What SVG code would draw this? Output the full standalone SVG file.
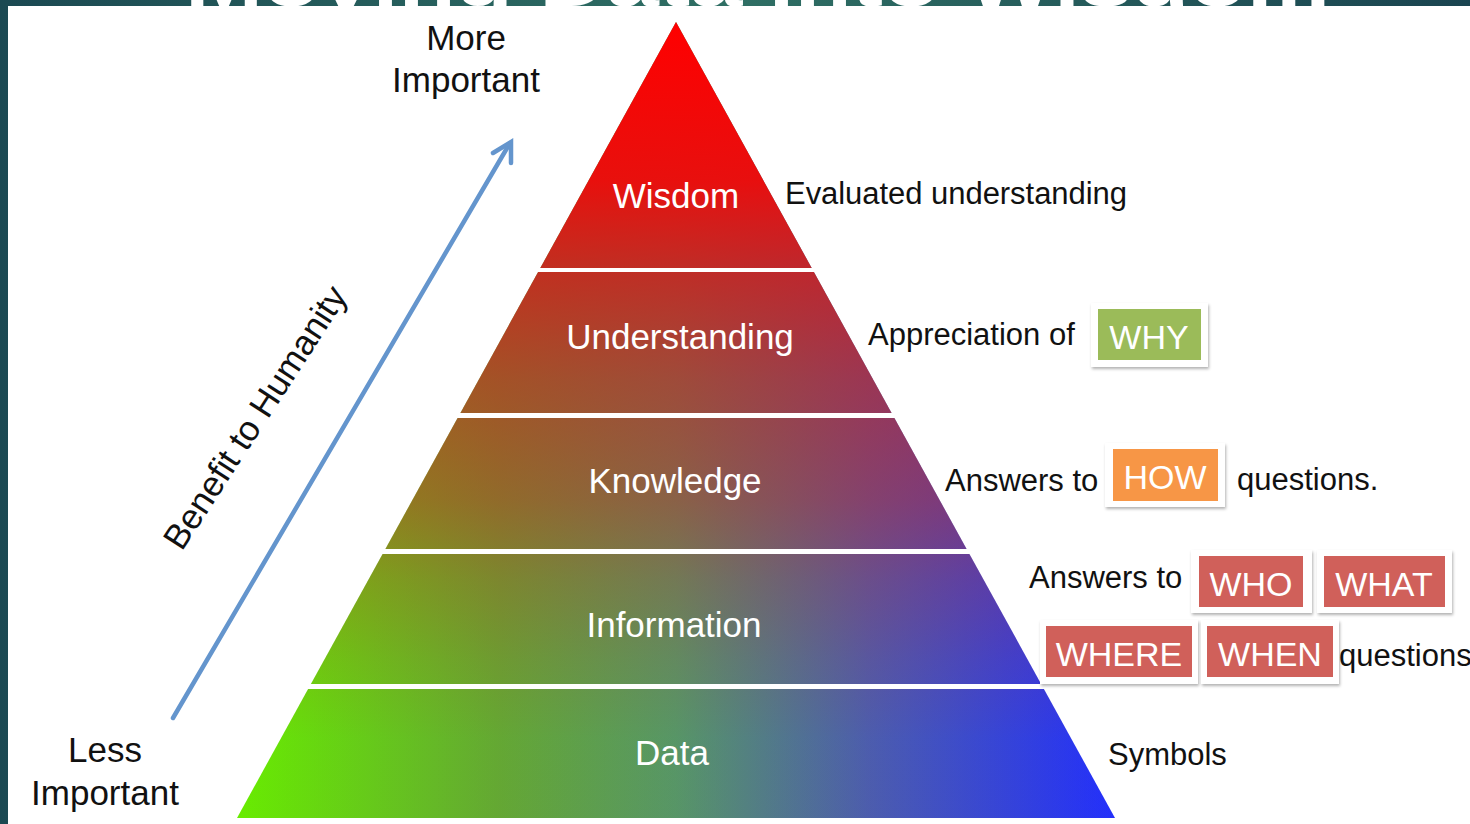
<svg xmlns="http://www.w3.org/2000/svg" width="1470" height="824" viewBox="0 0 1470 824">
  <defs>
    <linearGradient id="bg" x1="0" y1="0" x2="1470" y2="0" gradientUnits="userSpaceOnUse">
      <stop offset="0" stop-color="#1b4952"/>
      <stop offset="0.5" stop-color="#2f6f64"/>
      <stop offset="1" stop-color="#1a4450"/>
    </linearGradient>
    <linearGradient id="baseGrad" x1="237" y1="0" x2="1115" y2="0" gradientUnits="userSpaceOnUse">
      <stop offset="0" stop-color="#66f000"/>
      <stop offset="0.3" stop-color="#62aa34"/>
      <stop offset="0.5" stop-color="#559868"/>
      <stop offset="0.72" stop-color="#4a5eb0"/>
      <stop offset="1" stop-color="#2030ff"/>
    </linearGradient>
    <linearGradient id="redGrad" x1="0" y1="22" x2="0" y2="818" gradientUnits="userSpaceOnUse">
      <stop offset="0" stop-color="#ff0000" stop-opacity="1"/>
      <stop offset="0.2" stop-color="#ee0a0a" stop-opacity="0.96"/>
      <stop offset="0.31" stop-color="#d21a1a" stop-opacity="0.85"/>
      <stop offset="0.45" stop-color="#c82020" stop-opacity="0.64"/>
      <stop offset="0.6" stop-color="#c82020" stop-opacity="0.46"/>
      <stop offset="0.7" stop-color="#c82020" stop-opacity="0.26"/>
      <stop offset="0.8" stop-color="#c82020" stop-opacity="0.12"/>
      <stop offset="0.9" stop-color="#c82020" stop-opacity="0.02"/>
    </linearGradient>
    <filter id="shadow" x="-10%" y="-10%" width="130%" height="140%">
      <feDropShadow dx="1" dy="2" stdDeviation="1.5" flood-color="#000" flood-opacity="0.3"/>
    </filter>
    <clipPath id="titleClip"><rect x="0" y="0" width="1470" height="6"/></clipPath>
  </defs>
  <style>
    .tier { stroke: none; }
    .tlabel { font-family: "Liberation Sans", Arial, sans-serif; font-size: 35px; fill: #ffffff; text-anchor: middle; }
    .dark { font-family: "Liberation Sans", Arial, sans-serif; font-size: 31px; fill: #111111; }
    .side { font-family: "Liberation Sans", Arial, sans-serif; font-size: 35px; fill: #111111; text-anchor: middle; }
    .card { fill: #ffffff; filter: url(#shadow); }
    .pill { font-family: "Liberation Sans", Arial, sans-serif; font-size: 34px; fill: #ffffff; text-anchor: middle; }
    .red { fill: #d0605a; }
  </style>

  <!-- background frame -->
  <rect x="0" y="0" width="1470" height="824" fill="url(#bg)"/>
  <text x="185" y="6" clip-path="url(#titleClip)" font-family="Liberation Sans, Arial, sans-serif" font-weight="bold" font-size="70" fill="#ffffff" textLength="1145" lengthAdjust="spacingAndGlyphs">Moving Data into Wisdom</text>
  <rect x="8" y="6" width="1462" height="818" fill="#ffffff"/>

  <!-- pyramid tiers -->
  <g id="wisdom">
    <polygon class="tier" points="676,22 811.7,268 540.3,268" fill="url(#baseGrad)"/>
    <polygon class="tier" points="676,22 811.7,268 540.3,268" fill="url(#redGrad)"/>
    <text class="tlabel" x="676" y="208">Wisdom</text>
  </g>
  <g id="understanding">
    <polygon class="tier" points="538.1,272 813.9,272 891.6,413 460.4,413" fill="url(#baseGrad)"/>
    <polygon class="tier" points="538.1,272 813.9,272 891.6,413 460.4,413" fill="url(#redGrad)"/>
    <text class="tlabel" x="680" y="349">Understanding</text>
  </g>
  <g id="knowledge">
    <polygon class="tier" points="457.6,418 894.4,418 966.6,549 385.4,549" fill="url(#baseGrad)"/>
    <polygon class="tier" points="457.6,418 894.4,418 966.6,549 385.4,549" fill="url(#redGrad)"/>
    <text class="tlabel" x="675" y="493">Knowledge</text>
  </g>
  <g id="information">
    <polygon class="tier" points="382.6,554 969.4,554 1041.1,684 310.9,684" fill="url(#baseGrad)"/>
    <polygon class="tier" points="382.6,554 969.4,554 1041.1,684 310.9,684" fill="url(#redGrad)"/>
    <text class="tlabel" x="674" y="637">Information</text>
  </g>
  <g id="data">
    <polygon class="tier" points="308.1,689 1043.9,689 1115,818 237,818" fill="url(#baseGrad)"/>
    <polygon class="tier" points="308.1,689 1043.9,689 1115,818 237,818" fill="url(#redGrad)"/>
    <text class="tlabel" x="672" y="765">Data</text>
  </g>

  <!-- axis arrow -->
  <g id="connectors">
    <line x1="173" y1="718" x2="510" y2="143" stroke="#6495cd" stroke-width="4.5" stroke-linecap="round"/>
    <path d="M 493 153 L 511 142 L 511 163" fill="none" stroke="#6495cd" stroke-width="4.5" stroke-linecap="round" stroke-linejoin="miter"/>
  </g>

  <g id="axis-labels">
    <text class="side" x="466" y="50">More</text>
    <text class="side" x="466" y="92">Important</text>
    <text class="side" x="105" y="762">Less</text>
    <text class="side" x="105" y="805">Important</text>
    <text class="side" x="0" y="0" font-size="34" transform="translate(265,424) rotate(-57)">Benefit to Humanity</text>
  </g>

  <!-- descriptions -->
  <g id="desc-wisdom">
    <text class="dark" x="785" y="204" textLength="342">Evaluated understanding</text>
  </g>
  <g id="desc-understanding">
    <text class="dark" x="868" y="345">Appreciation of</text>
    <rect class="card" x="1091" y="303" width="117" height="64"/>
    <rect x="1098" y="309" width="103" height="51" fill="#9bbb59"/>
    <text class="pill" x="1149" y="349">WHY</text>
  </g>
  <g id="desc-knowledge">
    <text class="dark" x="945" y="491">Answers to</text>
    <rect class="card" x="1105" y="443" width="120" height="64"/>
    <rect x="1113" y="449" width="105" height="52" fill="#f79646"/>
    <text class="pill" x="1165" y="489">HOW</text>
    <text class="dark" x="1237" y="490">questions.</text>
  </g>
  <g id="desc-information">
    <text class="dark" x="1029" y="588">Answers to</text>
    <rect class="card" x="1191" y="550" width="121" height="63"/>
    <rect class="red" x="1199" y="556" width="104" height="51"/>
    <text class="pill" x="1251" y="596">WHO</text>
    <rect class="card" x="1317" y="550" width="135" height="63"/>
    <rect class="red" x="1324" y="556" width="121" height="51"/>
    <text class="pill" x="1384" y="596">WHAT</text>
    <rect class="card" x="1040" y="620" width="158" height="64"/>
    <rect class="red" x="1046" y="626" width="146" height="51"/>
    <text class="pill" x="1119" y="666">WHERE</text>
    <rect class="card" x="1201" y="620" width="138" height="64"/>
    <rect class="red" x="1207" y="626" width="126" height="51"/>
    <text class="pill" x="1270" y="666">WHEN</text>
    <text class="dark" x="1339" y="666">questions</text>
  </g>
  <g id="desc-data">
    <text class="dark" x="1108" y="765">Symbols</text>
  </g>
</svg>
